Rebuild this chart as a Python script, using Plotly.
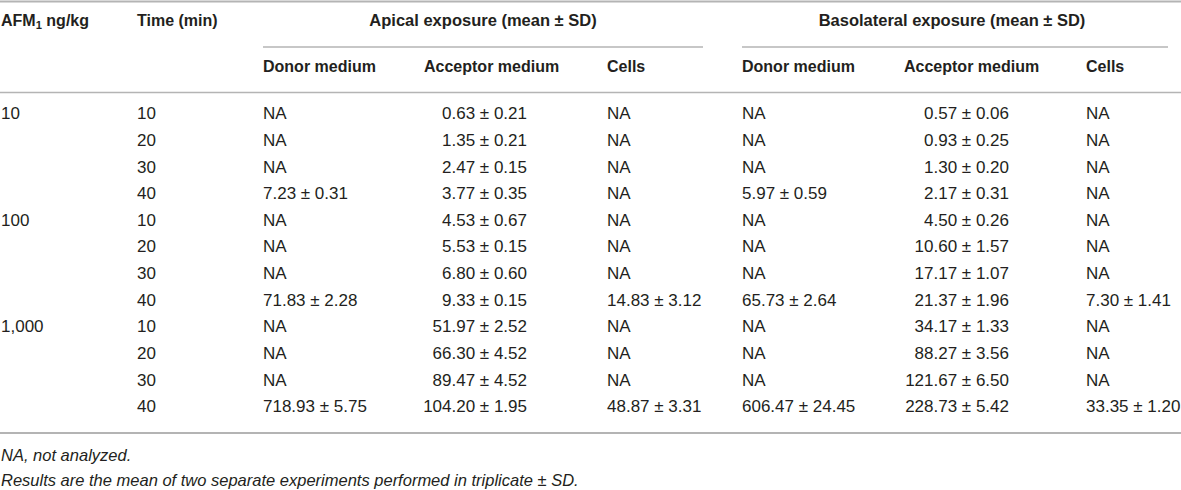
import plotly.graph_objects as go

# Datos de la tabla
afm_levels = ["10", "", "", "", "100", "", "", "", "1,000", "", "", ""]
times = [10, 20, 30, 40, 10, 20, 30, 40, 10, 20, 30, 40]

# Apical exposure (mean, SD) -- None = NA
apical_donor_mean = [None, None, None, 7.23, None, None, None, 71.83, None, None, None, 718.93]
apical_donor_sd = [None, None, None, 0.31, None, None, None, 2.28, None, None, None, 5.75]
apical_acc_mean = [0.63, 1.35, 2.47, 3.77, 4.53, 5.53, 6.80, 9.33, 51.97, 66.30, 89.47, 104.20]
apical_acc_sd = [0.21, 0.21, 0.15, 0.35, 0.67, 0.15, 0.60, 0.15, 2.52, 4.52, 4.52, 1.95]
apical_cells_mean = [None, None, None, None, None, None, None, 14.83, None, None, None, 48.87]
apical_cells_sd = [None, None, None, None, None, None, None, 3.12, None, None, None, 3.31]

# Basolateral exposure (mean, SD)
baso_donor_mean = [None, None, None, 5.97, None, None, None, 65.73, None, None, None, 606.47]
baso_donor_sd = [None, None, None, 0.59, None, None, None, 2.64, None, None, None, 24.45]
baso_acc_mean = [0.57, 0.93, 1.30, 2.17, 4.50, 10.60, 17.17, 21.37, 34.17, 88.27, 121.67, 228.73]
baso_acc_sd = [0.06, 0.25, 0.20, 0.31, 0.26, 1.57, 1.07, 1.96, 1.33, 3.56, 6.50, 5.42]
baso_cells_mean = [None, None, None, None, None, None, None, 7.30, None, None, None, 33.35]
baso_cells_sd = [None, None, None, None, None, None, None, 1.41, None, None, None, 1.20]

group_titles = ["Apical exposure (mean \u00b1 SD)", "Basolateral exposure (mean \u00b1 SD)"]
sub_titles = ["Donor medium", "Acceptor medium", "Cells"]
footnotes = ["NA, not analyzed.",
             "Results are the mean of two separate experiments performed in triplicate \u00b1 SD."]

TXT = "#231f20"
RULE = "#b4b4b4"
FONT = "Liberation Sans, Arial, sans-serif"


def fmt(means, sds):
    out = []
    for m, s in zip(means, sds):
        if m is None:
            out.append("NA")
        else:
            out.append("{:.2f} \u00b1 {:.2f}".format(m, s))
    return out


# posiciones (pixeles)
row0 = 115
row_step = (408 - 115) / 11
rows_y = [row0 + row_step * i for i in range(len(times))]

fig = go.Figure()


def add_col(x, texts, align="left", y=None, size=17, bold=False, italic=False):
    ys = y if y is not None else rows_y
    # saltar celdas vacias
    pairs = [(t, yy) for t, yy in zip(texts, ys) if t != ""]
    texts = [p[0] for p in pairs]
    ys = [p[1] for p in pairs]
    if bold:
        texts = ["<b>" + t + "</b>" for t in texts]
    if italic:
        texts = ["<i>" + t + "</i>" for t in texts]
    if align == "left":
        pos = "middle right"
    elif align == "center":
        pos = "middle center"
    else:
        pos = "middle left"
    fig.add_trace(go.Scatter(
        x=[x] * len(texts), y=ys, text=texts, mode="text",
        textposition=pos,
        textfont=dict(family=FONT, size=size, color=TXT),
        hoverinfo="skip", showlegend=False
    ))


# columnas de datos
add_col(1, afm_levels)
add_col(137, [str(t) for t in times])
add_col(263, fmt(apical_donor_mean, apical_donor_sd))
add_col(527, fmt(apical_acc_mean, apical_acc_sd), align="right")
add_col(607, fmt(apical_cells_mean, apical_cells_sd))
add_col(742, fmt(baso_donor_mean, baso_donor_sd))
add_col(1009, fmt(baso_acc_mean, baso_acc_sd), align="right")
add_col(1086, fmt(baso_cells_mean, baso_cells_sd))

# encabezados
h1 = 22
h2 = 68
add_col(1, ["AFM<sub>1</sub> ng/kg"], y=[h1], size=16, bold=True)
add_col(137, ["Time (min)"], y=[h1], size=16, bold=True)
add_col(483, [group_titles[0]], y=[h1], size=16.5, bold=True, align="center")
add_col(952, [group_titles[1]], y=[h1], size=16.5, bold=True, align="center")
sub_x = [263, 424, 607, 742, 904, 1086]
for sx, st in zip(sub_x, sub_titles * 2):
    add_col(sx, [st], y=[h2], size=16, bold=True)

# notas
add_col(1, footnotes, y=[457, 482], size=16.5, italic=True)

# lineas
def hline(x0, x1, y, w=1.6):
    fig.add_shape(type="line", xref="x", yref="y", x0=x0, x1=x1, y0=y, y1=y,
                  line=dict(color=RULE, width=w))

hline(0, 1181, 1.5, 2)
hline(263, 703, 47)
hline(742, 1168, 47)
hline(0, 1181, 92.5)
hline(0, 1181, 433, 2)

fig.update_layout(
    width=1181, height=490,
    margin=dict(l=0, r=0, t=0, b=0, pad=0),
    paper_bgcolor="white", plot_bgcolor="white",
    xaxis=dict(range=[0, 1181], visible=False, fixedrange=True),
    yaxis=dict(range=[490, 0], visible=False, fixedrange=True),
    showlegend=False
)

fig.write_html("out.html", config={"displayModeBar": False},
               post_script="document.body.style.margin='0';")
